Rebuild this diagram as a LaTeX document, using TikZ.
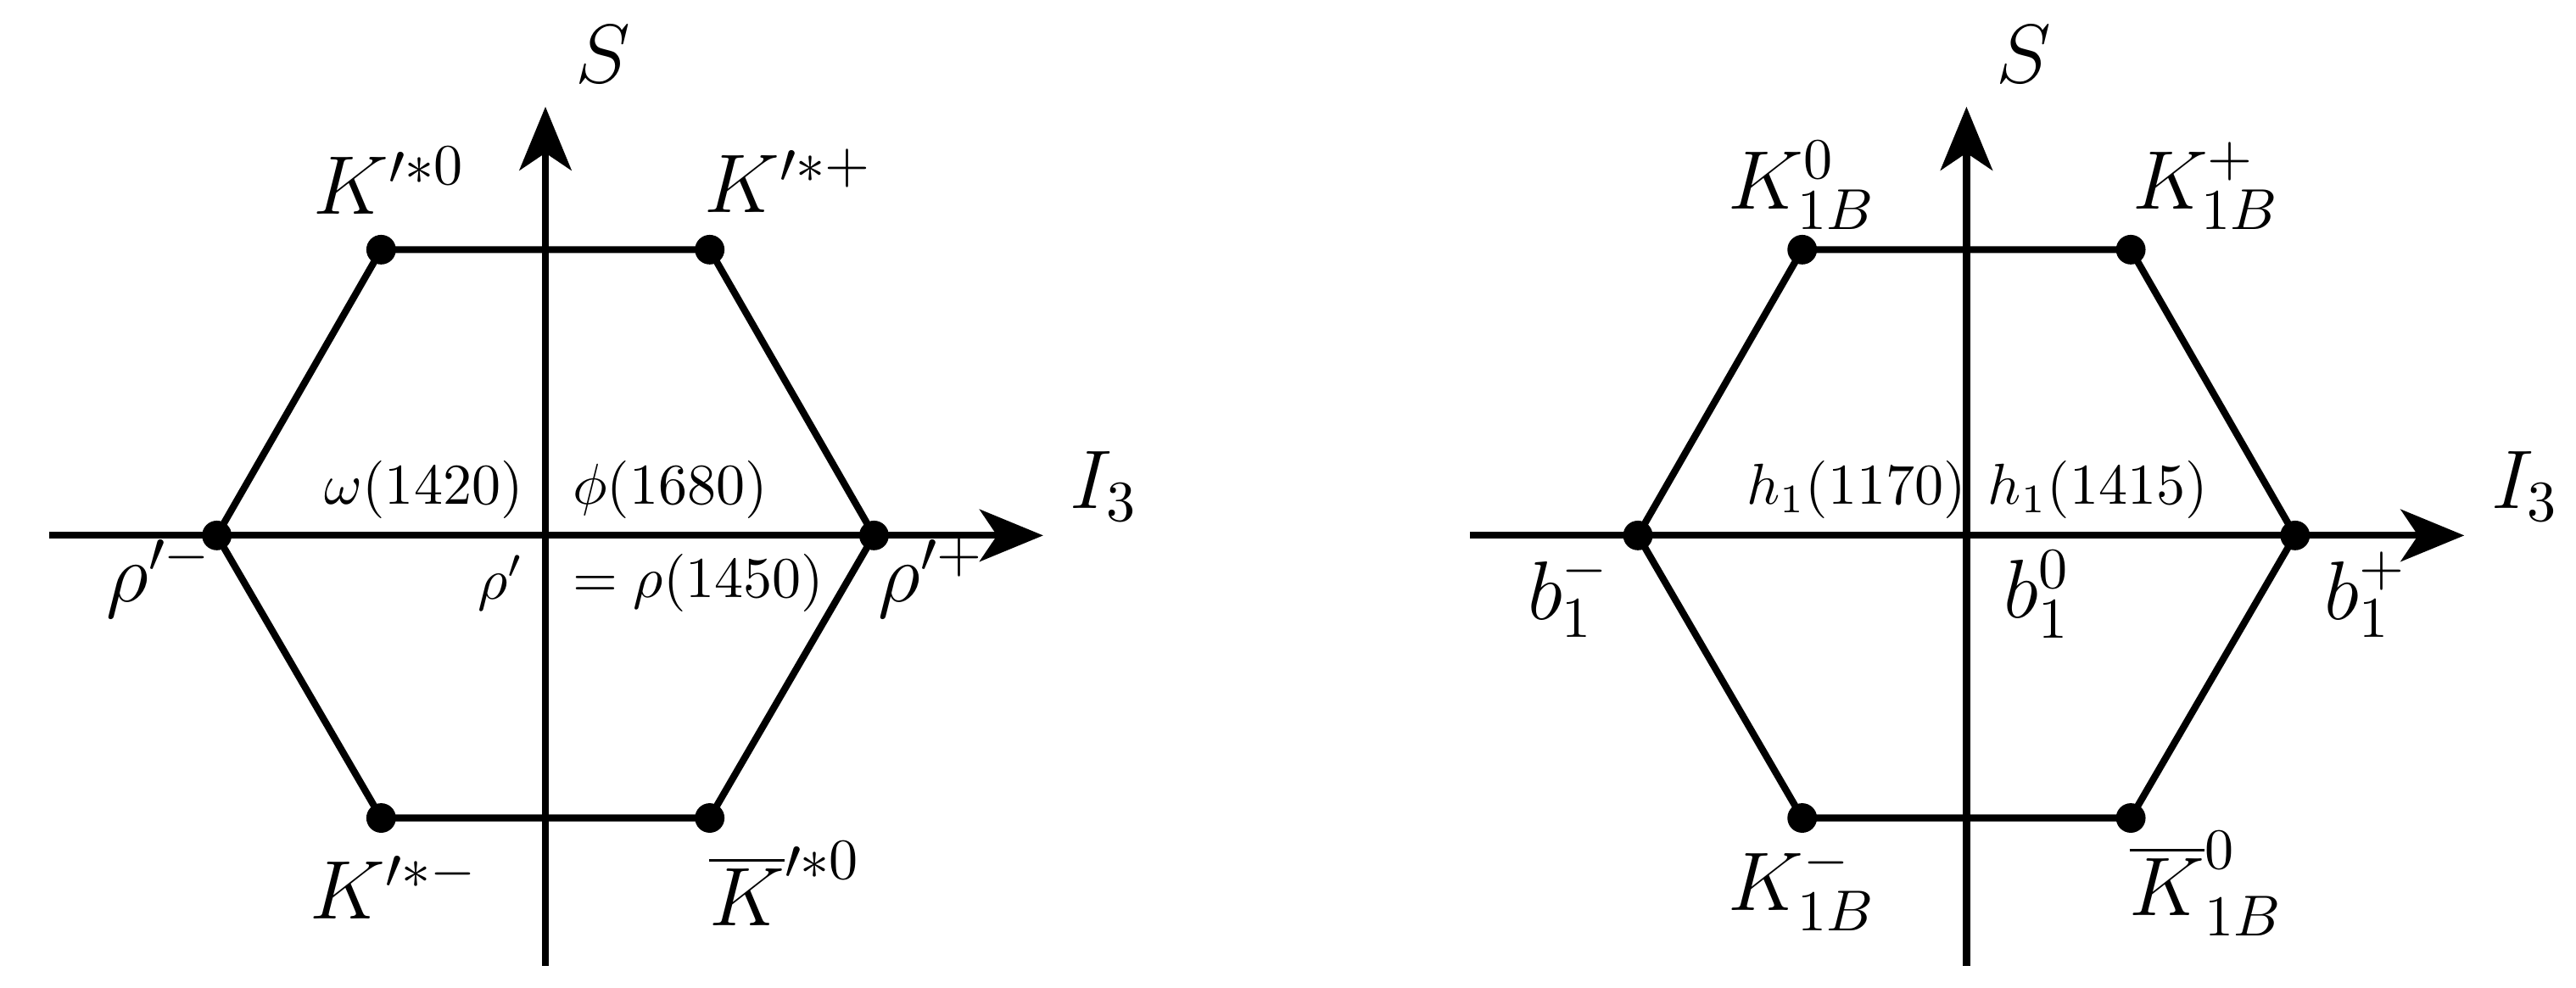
\documentclass[tikz,border=0pt]{standalone}
\usetikzlibrary{arrows.meta}
\begin{document}
\begin{tikzpicture}[x=0.01cm,y=-0.01cm,
  edge/.style={line width=1.2pt},
  axis/.style={line width=1.2pt,-{Stealth[length=11pt,width=9pt,inset=3pt]}},
  dot/.style={circle,fill=black,inner sep=0pt,minimum size=0.18cm},
  big/.style={font=\fontsize{14}{16}\selectfont},
  small/.style={font=\fontsize{9.8}{11}\selectfont}]
\useasboundingbox (0,0) rectangle (1568,601);
\foreach \cx/\nm in {332/L,1197/R}{
  \coordinate (\nm c) at (\cx,326);
  \coordinate (\nm xa) at (\cx-302,326);
  \coordinate (\nm xb) at (\cx+303,326);
  \coordinate (\nm ya) at (\cx,588);
  \coordinate (\nm yb) at (\cx,65);
  \draw[axis] (\nm xa) -- (\nm xb);
  \draw[axis] (\nm ya) -- (\nm yb);
  \node[dot] (\nm1) at (\cx-100,152) {};
  \node[dot] (\nm2) at (\cx+100,152) {};
  \node[dot] (\nm3) at (\cx+200,326) {};
  \node[dot] (\nm4) at (\cx+100,498) {};
  \node[dot] (\nm5) at (\cx-100,498) {};
  \node[dot] (\nm6) at (\cx-200,326) {};
  \draw[edge] (\nm1.center) -- (\nm2.center) -- (\nm3.center) -- (\nm4.center) -- (\nm5.center) -- (\nm6.center) -- cycle;
}
% left labels
\node[big] (lS) at (367,33) {$S$};
\node[big] (lI) at (672,296) {$I_3$};
\node[big] (lk1) at (237,110) {$K'^{*0}$};
\node[big] (lk2) at (480,110) {$K'^{*+}$};
\node[big] (lk3) at (240,540) {$K'^{*-}$};
\node[big] (lk4) at (478,538) {$\overline{K}'^{*0}$};
\node[big] (lr1) at (97,352) {$\rho'^{-}$};
\node[big] (lr2) at (567,352) {$\rho'^{+}$};
\node[small] (lw) at (258,298) {$\omega(1420)$};
\node[small] (lp) at (408,298) {$\phi(1680)$};
\node[small] (lr0) at (305,355) {$\rho'$};
\node[small] (lr3) at (425,355) {$=\rho(1450)$};
% right labels
\node[big] (rS) at (1232,33) {$S$};
\node[big] (rI) at (1537,296) {$I_3$};
\node[big] (rk1) at (1097,113) {$K^0_{1B}$};
\node[big] (rk2) at (1343,113) {$K^+_{1B}$};
\node[big] (rk3) at (1097,540) {$K^-_{1B}$};
\node[big] (rk4) at (1343,538) {$\overline{K}^0_{1B}$};
\node[big] (rb1) at (955,362) {$b_1^-$};
\node[big] (rb0) at (1240,362) {$b_1^0$};
\node[big] (rb2) at (1440,362) {$b_1^+$};
\node[small] (rh1) at (1130,298) {$h_1(1170)$};
\node[small] (rh2) at (1277,298) {$h_1(1415)$};
\end{tikzpicture}
\end{document}
